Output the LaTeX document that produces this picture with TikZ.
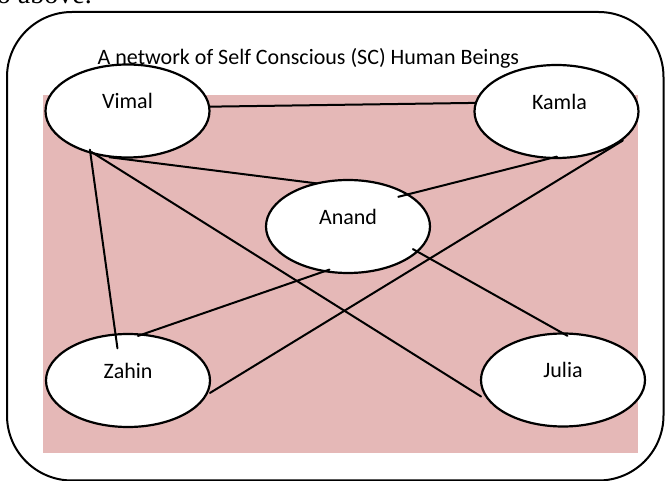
\documentclass[tikz,border=0pt]{standalone}
\usepackage{fontspec}
\setmainfont{Carlito}
\newfontfamily\bodyserif{Liberation Serif}
\usepackage{tikz}
\usetikzlibrary{shapes.geometric}
\definecolor{netpink}{RGB}{229,184,183}
\tikzset{
  person/.style={draw, ellipse, line width=2.2pt, fill=white,
    minimum width=164pt, minimum height=93pt,
    text height=16pt, text depth=20pt, font=\fontsize{22}{26}\selectfont},
  link/.style={line width=2pt, line cap=round},
  frame/.style={draw, line width=2pt, rounded corners=65pt},
}
\begin{document}
\begin{tikzpicture}[x=1pt, y=-1pt]
  \useasboundingbox (0,0) rectangle (665,481);

  % cut-off line of body text
  \node[font=\bodyserif\fontsize{28}{32}\selectfont, anchor=base east, inner sep=0pt]
    (above) at (92,4) {o above.};

  % outer frame and shaded field
  \draw[frame] (7,12) rectangle (663.5,480.5);
  \fill[netpink] (43,95) rectangle (638,453);

  % people
  \node[person] (vimal) at (127.5,111) {Vimal};
  \node[person] (kamla) at (556.5,111.5) {\hspace{6pt}Kamla};
  \node[person] (anand) at (348,226.5) {Anand};
  \node[person] (zahin) at (128,380.5) {Zahin};
  \node[person] (julia) at (563,380) {Julia};

  % title
  \node[font=\fontsize{22}{26}\selectfont, anchor=base west, inner sep=0pt]
    (title) at (97.5,65) {A network of Self Conscious (SC) Human Beings};

  % links
  \draw[link] (vimal.3) -- (kamla.174);
  \draw[link, shorten <=-8pt, shorten >=-3pt] (vimal.-102) -- (anand.128);
  \draw[link, shorten <=-6pt, shorten >=9pt] (vimal.-125) -- (julia.196);
  \draw[link, shorten <=-4pt, shorten >=-15pt] (vimal.-131) -- (zahin.105);
  \draw[link, shorten <=-9pt, shorten >=-11pt] (kamla.-100) -- (anand.28);
  \draw[link, shorten <=-5pt, shorten >=3pt] (kamla.-27) -- (zahin.-10);
  \draw[link, shorten <=-7pt, shorten >=-6.5pt] (anand.-119) -- (zahin.71);
  \draw[link, shorten <=-6pt, shorten >=-7pt] (anand.-20) -- (julia.92);
\end{tikzpicture}
\end{document}
